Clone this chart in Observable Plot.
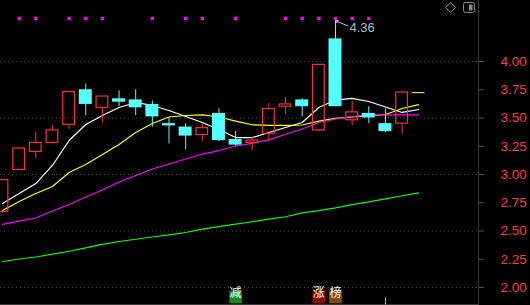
<!DOCTYPE html>
<html><head><meta charset="utf-8">
<script src="https://cdn.jsdelivr.net/npm/d3@7"></script>
<script src="https://cdn.jsdelivr.net/npm/@observablehq/plot@0.6"></script>
<style>
html,body{margin:0;padding:0;background:#000;}
#wrap{position:relative;width:530px;height:305px;overflow:hidden;background:#000;}
#icons{position:absolute;left:0;top:0;}
</style></head><body><div id="wrap"></div>
<script>
// Daily candles (index 0..25)
const opens  = [2.67,3.04,3.20,3.28,3.44,3.75,3.59,3.67,3.66,3.62,3.45,3.42,3.35,3.54,3.31,3.28,3.36,3.60,3.66,3.39,4.20,3.48,3.54,3.45,3.45,3.725];
const highs  = [2.95,3.23,3.37,3.43,3.73,3.80,3.69,3.74,3.75,3.65,3.50,3.45,3.45,3.58,3.38,3.33,3.63,3.68,3.67,3.97,4.36,3.65,3.60,3.58,3.725,3.725];
const lows   = [2.655,3.04,3.14,3.27,3.40,3.52,3.46,3.60,3.52,3.42,3.27,3.22,3.29,3.29,3.25,3.21,3.29,3.53,3.51,3.38,3.60,3.43,3.45,3.37,3.36,3.725];
const closes = [2.95,3.23,3.28,3.39,3.73,3.62,3.69,3.64,3.59,3.51,3.43,3.34,3.41,3.30,3.26,3.30,3.58,3.62,3.60,3.97,3.60,3.55,3.50,3.38,3.725,3.725];

// Moving averages
const ma5  = [2.743,2.832,2.920,3.080,3.301,3.442,3.522,3.593,3.637,3.611,3.566,3.513,3.460,3.398,3.327,3.327,3.372,3.416,3.460,3.593,3.659,3.673,3.646,3.597,3.549,3.575];
const ma10 = [2.681,2.761,2.832,2.894,3.018,3.088,3.177,3.265,3.372,3.451,3.509,3.522,3.527,3.509,3.473,3.440,3.434,3.434,3.438,3.473,3.497,3.509,3.518,3.531,3.584,3.619];
const ma20 = [2.558,2.588,2.615,2.677,2.735,2.801,2.863,2.934,2.991,3.049,3.093,3.137,3.181,3.212,3.252,3.276,3.307,3.356,3.403,3.460,3.491,3.513,3.528,3.528,3.528,3.528];
const ma60 = [2.230,2.252,2.270,2.295,2.321,2.351,2.381,2.407,2.427,2.447,2.465,2.487,2.517,2.538,2.561,2.582,2.605,2.626,2.660,2.680,2.704,2.733,2.757,2.785,2.812,2.838];

// Signal dots along the top
const dotDays = [1,2,4,5,6,9,11,12,14,17,18,19,20,21,22];
// Bottom tags
const tagDays = [14,19,20];
const tagLabels = ["减","涨","榜"];
const tickDays = [23];

// Axis ticks
const yTicks = [2.00,2.25,2.50,2.75,3.00,3.25,3.50,3.75,4.00];
const gridTicks = [2.0,2.5,3.0,3.5,4.0];

const candles = opens.map((o,i)=>({i, open:o, high:highs[i], low:lows[i], close:closes[i]}));
const up = candles.filter(d=>d.close>d.open);
const down = candles.filter(d=>d.close<d.open);
const flat = candles.filter(d=>d.close===d.open);
const hi = candles.reduce((a,b)=>b.high>a.high?b:a);
const series = [[ma5,"#ffffff"],[ma10,"#ffff00"],[ma20,"#ff00ff"],[ma60,"#00ff00"]];
const tags = tagDays.map((i,k)=>({i, label:tagLabels[k]}));
const tagColor = {"减":"#168a16","涨":"#8e0a0a","榜":"#8a4a0c"};

const RED="#ff3030", CYAN="#54ffff";
const bar = {draw(ctx){ctx.moveTo(0,-3.5);ctx.lineTo(0,3.5);}};

const chart = Plot.plot({
  width:530, height:305, marginTop:0, marginRight:52, marginBottom:1, marginLeft:0,
  style:{background:"#000", color:"#ff3a3a", fontFamily:"'Liberation Sans',Arial,sans-serif", fontSize:"13px"},
  x:{type:"linear", domain:[0,25], range:[2,418.25], axis:null},
  y:{domain:[2,4], range:[287,61], axis:null},
  color:{type:"identity"},
  marks:[
    Plot.gridY(gridTicks, {stroke:"#4a4a4a", strokeOpacity:1, strokeDasharray:"1,3"}),
    Plot.axisY(yTicks, {anchor:"right", tickSize:5, tickPadding:17, stroke:"#555", fill:"#ff3a3a", tickFormat:d=>d.toFixed(2), label:null, fontSize:13.5}),
    Plot.frame({anchor:"right", stroke:"#3a3a3a"}),
    Plot.frame({anchor:"bottom", stroke:"#3a3a3a"}),
    ...series.map(([vals,c]) => Plot.line(vals.map((v,i)=>({i,v})), {x:"i", y:"v", stroke:c, strokeWidth:1.2})),
    // down candles (solid cyan)
    Plot.ruleX(down, {x:"i", y1:"low", y2:"high", stroke:CYAN, strokeWidth:1}),
    Plot.rect(down, {x1:d=>d.i-0.39, x2:d=>d.i+0.39, y1:"close", y2:"open", fill:CYAN}),
    // up candles (hollow red)
    Plot.ruleX(up, {x:"i", y1:"close", y2:"high", stroke:RED, strokeWidth:1}),
    Plot.ruleX(up, {x:"i", y1:"low", y2:"open", stroke:RED, strokeWidth:1}),
    Plot.rect(up, {x1:d=>d.i-0.35, x2:d=>d.i+0.35, y1:"open", y2:"close", fill:"none", stroke:RED, strokeWidth:1.2}),
    // unchanged
    Plot.ruleY(flat, {y:"close", x1:d=>d.i-0.37, x2:d=>d.i+0.37, stroke:"#e8e800", strokeWidth:1.2}),
    // high label
    Plot.arrow([hi], {x1:d=>d.i+0.75, y1:d=>d.high-0.045, x2:"i", y2:"high", stroke:"#c8c8c8", strokeWidth:1, headLength:4}),
    Plot.text([hi], {x:"i", y:"high", text:d=>d.high.toFixed(2), dx:14, dy:7, textAnchor:"start", fill:"#a9bcd0", fontSize:13}),
    // signal dots
    Plot.dot(dotDays, {x:d=>d, frameAnchor:"top", dy:18, symbol:"square", r:1.9, fill:"#ff00ff", stroke:null}),
    // bottom tags
    Plot.dot(tags, {x:"i", frameAnchor:"bottom", dy:-7.5, symbol:"square", r:7.1, fill:d=>tagColor[d.label]}),
    Plot.text(tags, {x:"i", text:"label", frameAnchor:"bottom", dy:-7.5, fill:"#ffffff", fontSize:12, fontFamily:"'Noto Sans CJK SC',sans-serif"}),
    Plot.dot(tickDays, {x:d=>d, frameAnchor:"bottom", dy:-3.5, symbol:bar, stroke:"#d8c000", fill:"none", strokeWidth:1})
  ]
});
const wrap = document.getElementById("wrap");
wrap.appendChild(chart);
wrap.insertAdjacentHTML("beforeend", `<svg id="icons" width="530" height="20">
<polygon points="450.5,2.5 455.5,7.5 450.5,12.5 445.5,7.5" fill="none" stroke="#8a8a8a"/>
<rect x="463.5" y="2.5" width="11" height="10" rx="2" fill="none" stroke="#8a8a8a"/>
<rect x="469" y="4.5" width="3.5" height="6" fill="#8a8a8a"/></svg>`);
</script></body></html>
